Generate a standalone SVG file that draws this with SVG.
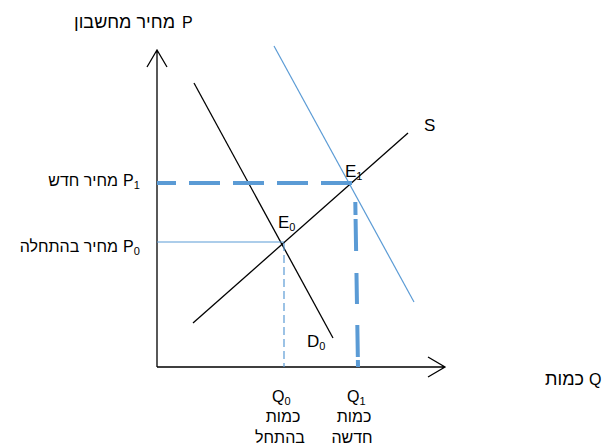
<svg xmlns="http://www.w3.org/2000/svg" width="605" height="448" viewBox="0 0 605 448">
<style>
text{font-family:"Liberation Sans",Arial,sans-serif;fill:#000}
.ax{font-size:16px}
.he{font-size:16px}
.hl{font-size:18px}
.lb{font-size:17px}
.sub{font-size:11px}
.blk{stroke:#000;stroke-width:1.3;fill:none}
.blue{stroke:#5B9BD5;fill:none}
</style>
<rect width="605" height="448" fill="#fff"/>
<g id="connectors">
  <path id="y-axis" class="blk" d="M157,367 V50 M147,67 L157,50 L167,67"/>
  <path id="x-axis" class="blk" d="M157,367 H445 M428,357 L445,367 L428,377"/>
  <path id="D1" class="blue" stroke-width="1.2" d="M274,46 L414,302"/>
  <path id="D0" class="blk" d="M194,83 L333,338"/>
  <path id="S" class="blk" d="M193,323 L408,133"/>
  <path id="p1-line" class="blue" stroke-width="4" stroke-dasharray="31 13" d="M352,183 H157"/>
  <path id="q1-line" class="blue" stroke-width="4" stroke-dasharray="0 19 13 4 32 22 31 21 32 3 8" d="M355,183 L358,367"/>
  <path id="p0-line" class="blue" stroke-width="1.2" d="M157,242 H284"/>
  <path id="q0-line" class="blue" stroke-width="1.2" stroke-dasharray="8 4" d="M284,243 V367"/>
</g>
<g id="label-P-axis">
  <text class="ax" x="182" y="28">P</text>
  <text class="hl" x="175" y="28" text-anchor="end">מחיר מחשבון</text>
</g>
<g id="label-P1">
  <text class="ax" x="123" y="186">P<tspan class="sub" dy="3">1</tspan></text>
  <text class="he" x="118" y="186" text-anchor="end">מחיר חדש</text>
</g>
<g id="label-P0">
  <text class="ax" x="123" y="252">P<tspan class="sub" dy="3">0</tspan></text>
  <text class="he" x="118" y="252" text-anchor="end">מחיר בהתחלה</text>
</g>
<g id="label-Q-axis">
  <text class="ax" x="589" y="385">Q</text>
  <text class="hl" x="584" y="385" text-anchor="end">כמות</text>
</g>
<g id="node-E1"><text class="lb" x="345" y="177">E<tspan class="sub" dy="3">1</tspan></text></g>
<g id="node-E0"><text class="lb" x="278" y="228">E<tspan class="sub" dy="3">0</tspan></text></g>
<g id="node-D0"><text class="lb" x="307" y="347">D<tspan class="sub" dy="3">0</tspan></text></g>
<g id="node-S"><text class="lb" x="424" y="131">S</text></g>
<g id="label-Q0">
  <text class="ax" x="272" y="402">Q<tspan class="sub" dy="3">0</tspan></text>
  <text class="he" x="283" y="422" text-anchor="middle">כמות</text>
  <text class="he" x="280" y="443" text-anchor="middle">בהתחל</text>
</g>
<g id="label-Q1">
  <text class="ax" x="347" y="402">Q<tspan class="sub" dy="3">1</tspan></text>
  <text class="he" x="354" y="422" text-anchor="middle">כמות</text>
  <text class="he" x="352" y="443" text-anchor="middle">חדשה</text>
</g>
</svg>
